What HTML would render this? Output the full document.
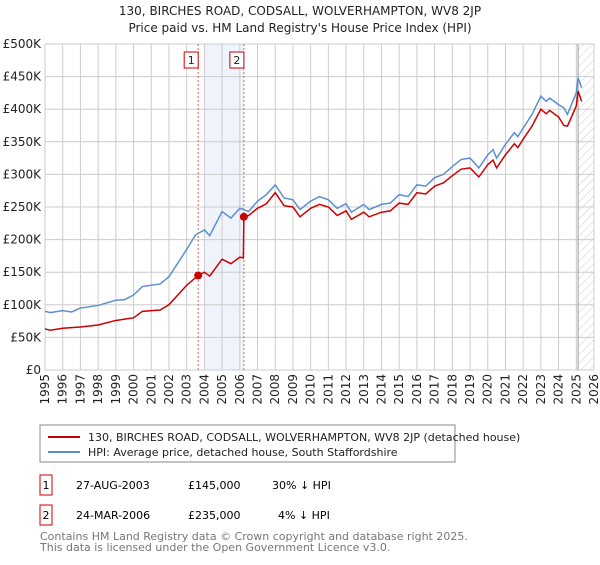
<!DOCTYPE html>
<html><head><meta charset="utf-8"><style>
body{margin:0;background:#fff;font-family:"Liberation Sans","DejaVu Sans",sans-serif;}
svg text{font-family:"DejaVu Sans","Liberation Sans",sans-serif;}
</style></head><body>
<svg id="c" width="600" height="560" viewBox="0 0 600 560" xmlns="http://www.w3.org/2000/svg">
<defs><pattern id="hatch" patternUnits="userSpaceOnUse" width="6" height="6" patternTransform="rotate(45)"><line x1="0" y1="0" x2="0" y2="6" stroke="#ccc" stroke-width="1"/></pattern></defs>
<text x="300" y="15" text-anchor="middle" font-size="12" fill="#222">130, BIRCHES ROAD, CODSALL, WOLVERHAMPTON, WV8 2JP</text>
<text x="300" y="32" text-anchor="middle" font-size="12" fill="#222">Price paid vs. HM Land Registry's House Price Index (HPI)</text>
<g id="grid"></g><g id="marks"></g><g id="axes"></g>
<rect x="40" y="425" width="415" height="37" fill="#fff" stroke="#888"/>
<line x1="48" y1="437" x2="80" y2="437" stroke="#cc0000" stroke-width="2"/>
<text x="88" y="441" font-size="11" fill="#222">130, BIRCHES ROAD, CODSALL, WOLVERHAMPTON, WV8 2JP (detached house)</text>
<line x1="48" y1="452" x2="80" y2="452" stroke="#5b8fd1" stroke-width="2"/>
<text x="88" y="456" font-size="11" fill="#222">HPI: Average price, detached house, South Staffordshire</text>
<g>
<rect x="40" y="475" width="12" height="20" fill="#fff" stroke="#cc0000"/><text x="46" y="489" font-size="11" text-anchor="middle">1</text>
<text x="76" y="489" font-size="11">27-AUG-2003</text><text x="188" y="489" font-size="11">£145,000</text><text x="272" y="489" font-size="11">30% ↓ HPI</text></g>
<g>
<rect x="40" y="505" width="12" height="20" fill="#fff" stroke="#cc0000"/><text x="46" y="519" font-size="11" text-anchor="middle">2</text>
<text x="76" y="519" font-size="11">24-MAR-2006</text><text x="188" y="519" font-size="11">£235,000</text><text x="278" y="519" font-size="11">4% ↓ HPI</text></g>
<text x="40" y="540" font-size="11" fill="#777">Contains HM Land Registry data © Crown copyright and database right 2025.</text>
<text x="40" y="551" font-size="11" fill="#777">This data is licensed under the Open Government Licence v3.0.</text>
</svg>
<script>
const hpiYears=[1995,1995.3,1996,1996.5,1997,1998,1999,1999.5,2000,2000.5,2001.5,2002,2002.5,2003,2003.5,2004,2004.3,2005,2005.5,2006,2006.5,2007,2007.5,2008,2008.5,2009,2009.4,2010,2010.5,2011,2011.5,2012,2012.3,2013,2013.3,2014,2014.5,2015,2015.5,2016,2016.5,2017,2017.5,2018,2018.5,2019,2019.5,2020,2020.3,2020.5,2021,2021.5,2021.7,2022,2022.5,2023,2023.3,2023.5,2024,2024.3,2024.5,2025,2025.1,2025.3];
const hpiValues=[90,88,91,89,95,99,107,108,115,128,132,143,164,185,207,215,206,243,233,248,243,259,269,284,264,261,246,259,266,261,248,255,242,254,246,254,256,269,266,284,282,295,300,312,323,325,310,330,338,325,346,364,358,371,392,420,412,417,407,402,392,425,448,433];
const propYears=[1995,1995.3,1996,1997,1998,1999,2000,2000.5,2001.5,2002,2002.5,2003,2003.65,2004,2004.3,2005,2005.5,2006,2006.2,2006.23,2006.5,2007,2007.5,2008,2008.5,2009,2009.4,2010,2010.5,2011,2011.5,2012,2012.3,2013,2013.3,2014,2014.5,2015,2015.5,2016,2016.5,2017,2017.5,2018,2018.5,2019,2019.5,2020,2020.3,2020.5,2021,2021.5,2021.7,2022,2022.5,2023,2023.3,2023.5,2024,2024.3,2024.5,2025,2025.1,2025.3];
const propValues=[63,61,64,66,69,76,80,90,92,100,115,130,145,150,144,170,163,173,172,235,237,248,255,272,252,250,235,248,254,250,237,244,231,242,235,242,244,256,254,272,270,282,287,298,308,310,296,315,322,310,330,347,341,354,374,400,393,398,388,375,374,405,428,412];
const saleYears=[2003.65,2006.23];
const saleValues=[145,235];
const saleLabels=["1","2"];
const yTicks=[0,50,100,150,200,250,300,350,400,450,500];
const yTickLabels=["£0","£50K","£100K","£150K","£200K","£250K","£300K","£350K","£400K","£450K","£500K"];
const xTicks=[1995,1996,1997,1998,1999,2000,2001,2002,2003,2004,2005,2006,2007,2008,2009,2010,2011,2012,2013,2014,2015,2016,2017,2018,2019,2020,2021,2022,2023,2024,2025,2026];
const X0=45,X1=594,Y0=370,Y1=44;
const xs=y=>X0+(y-1995)/(2026-1995)*(X1-X0);
const ys=v=>Y0-v/500*(Y0-Y1);
const NS="http://www.w3.org/2000/svg";
function mk(p,t,a){const e=document.createElementNS(NS,t);for(const k in a)e.setAttribute(k,a[k]);p.appendChild(e);return e;}
const grid=document.getElementById('grid'),marks=document.getElementById('marks'),axes=document.getElementById('axes');
const bg=mk(grid,'rect',{x:X0,y:Y1,width:X1-X0,height:Y0-Y1,fill:'#fff'});


const sh=mk(grid,'rect',{x:xs(2004),y:Y1,width:xs(saleYears[1])-xs(2004),height:Y0-Y1,fill:'#eef3fc'});


const ht=mk(grid,'rect',{x:xs(2025.1),y:Y1,width:X1-xs(2025.1),height:Y0-Y1,fill:'url(#hatch)'});


yTicks.forEach((v,i)=>{
 const l=mk(grid,'line',{x1:X0,x2:X1,y1:ys(v),y2:ys(v),stroke:'#ccc'});
 
 
 const t=mk(axes,'text',{x:X0-4,y:ys(v)+4,'text-anchor':'end','font-size':12,fill:'#222'});
 t.textContent=yTickLabels[i];
 
 
});
xTicks.forEach(y=>{
 const l=mk(grid,'line',{x1:xs(y),x2:xs(y),y1:Y1,y2:Y0,stroke:'#ccc'});
 
 
 const t=mk(axes,'text',{x:0,y:0,'text-anchor':'end','font-size':12,fill:'#222',transform:`translate(${xs(y)+4},${Y0+4}) rotate(-90)`});
 t.textContent=y;
 
 
});
const nl=mk(grid,'line',{x1:xs(2025.1),x2:xs(2025.1),y1:Y1,y2:Y0,stroke:'#999'});


saleYears.forEach((y,i)=>{
 const l=mk(marks,'line',{x1:xs(y),x2:xs(y),y1:Y1,y2:Y0,stroke:'#e06060','stroke-dasharray':'2,2'});
 
 
 const r=mk(marks,'rect',{x:xs(y)-14,y:52,width:14,height:16,fill:'#fff',stroke:'#cc0000'});
 
 
 const t=mk(marks,'text',{x:xs(y)-7,y:64,'text-anchor':'middle','font-size':11,fill:'#222'});
 t.textContent=saleLabels[i];
 
 
});
const hp=mk(marks,'polyline',{points:hpiYears.map((y,i)=>xs(y)+','+ys(hpiValues[i])).join(' '),fill:'none',stroke:'#5b8fd1','stroke-width':1.5});


const pp=mk(marks,'polyline',{points:propYears.map((y,i)=>xs(y)+','+ys(propValues[i])).join(' '),fill:'none',stroke:'#cc0000','stroke-width':1.5});


saleYears.forEach((y,i)=>{
 const c=mk(marks,'circle',{cx:xs(y),cy:ys(saleValues[i]),r:4,fill:'#cc0000'});
 
 
});
</script>
</body></html>
